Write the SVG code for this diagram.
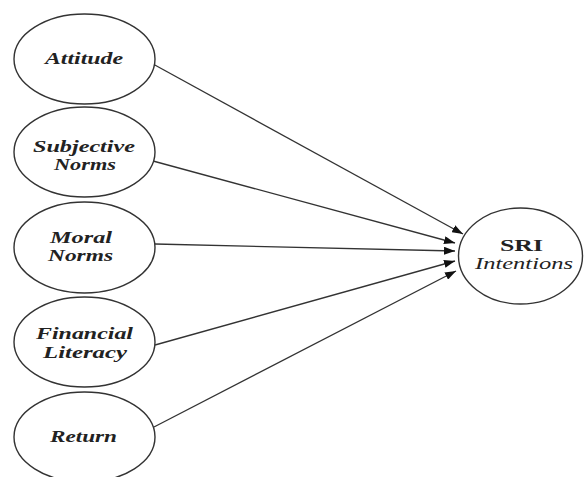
<svg xmlns="http://www.w3.org/2000/svg" width="584" height="477" viewBox="0 0 584 477">
<style>
.node ellipse{fill:#fff;stroke:#333;stroke-width:1.4}
.lbl{font-family:"Liberation Serif","Times New Roman",serif;font-size:16px;font-weight:bold;font-style:italic;fill:#222;text-anchor:middle}
.plain{font-style:normal}
.conn line{stroke:#333;stroke-width:1.3}
</style>
<defs>
<marker id="ah" markerUnits="userSpaceOnUse" markerWidth="11" markerHeight="8" refX="11" refY="4" orient="auto">
<path d="M0,0 L11,4 L0,8 z" fill="#111"/>
</marker>
</defs>
<rect width="584" height="477" fill="#fff"/>
<g id="connectors" class="conn">
<line x1="153" y1="64" x2="463" y2="234" marker-end="url(#ah)"/>
<line x1="153" y1="161" x2="455" y2="243" marker-end="url(#ah)"/>
<line x1="155" y1="244" x2="455" y2="251" marker-end="url(#ah)"/>
<line x1="155" y1="345" x2="455" y2="261" marker-end="url(#ah)"/>
<line x1="154" y1="427" x2="456" y2="271" marker-end="url(#ah)"/>
</g>
<g id="attitude" class="node">
<ellipse cx="84.5" cy="59" rx="70.5" ry="45"/>
<text class="lbl" x="84" y="64" textLength="78" lengthAdjust="spacingAndGlyphs">Attitude</text>
</g>
<g id="subjective-norms" class="node">
<ellipse cx="84.5" cy="152" rx="70.5" ry="45"/>
<text class="lbl" x="84" y="152" textLength="102" lengthAdjust="spacingAndGlyphs">Subjective</text>
<text class="lbl" x="85" y="170" textLength="62" lengthAdjust="spacingAndGlyphs">Norms</text>
</g>
<g id="moral-norms" class="node">
<ellipse cx="84.5" cy="247.5" rx="70.5" ry="45.5"/>
<text class="lbl" x="81" y="243" textLength="62" lengthAdjust="spacingAndGlyphs">Moral</text>
<text class="lbl" x="80.5" y="261" textLength="65" lengthAdjust="spacingAndGlyphs">Norms</text>
</g>
<g id="financial-literacy" class="node">
<ellipse cx="84.5" cy="342" rx="70.5" ry="45"/>
<text class="lbl" x="84.5" y="339" textLength="97" lengthAdjust="spacingAndGlyphs">Financial</text>
<text class="lbl" x="85" y="358" textLength="84" lengthAdjust="spacingAndGlyphs">Literacy</text>
</g>
<g id="return" class="node">
<ellipse cx="84.5" cy="437" rx="70.5" ry="45"/>
<text class="lbl" x="83.5" y="442" textLength="67" lengthAdjust="spacingAndGlyphs">Return</text>
</g>
<g id="sri-intentions" class="node">
<ellipse cx="520.5" cy="256" rx="62" ry="48"/>
<text class="lbl plain" x="521.5" y="251" textLength="43" lengthAdjust="spacingAndGlyphs">SRI</text>
<text class="lbl" x="524" y="269" textLength="98" lengthAdjust="spacingAndGlyphs" style="font-weight:normal">Intentions</text>
</g>
</svg>
